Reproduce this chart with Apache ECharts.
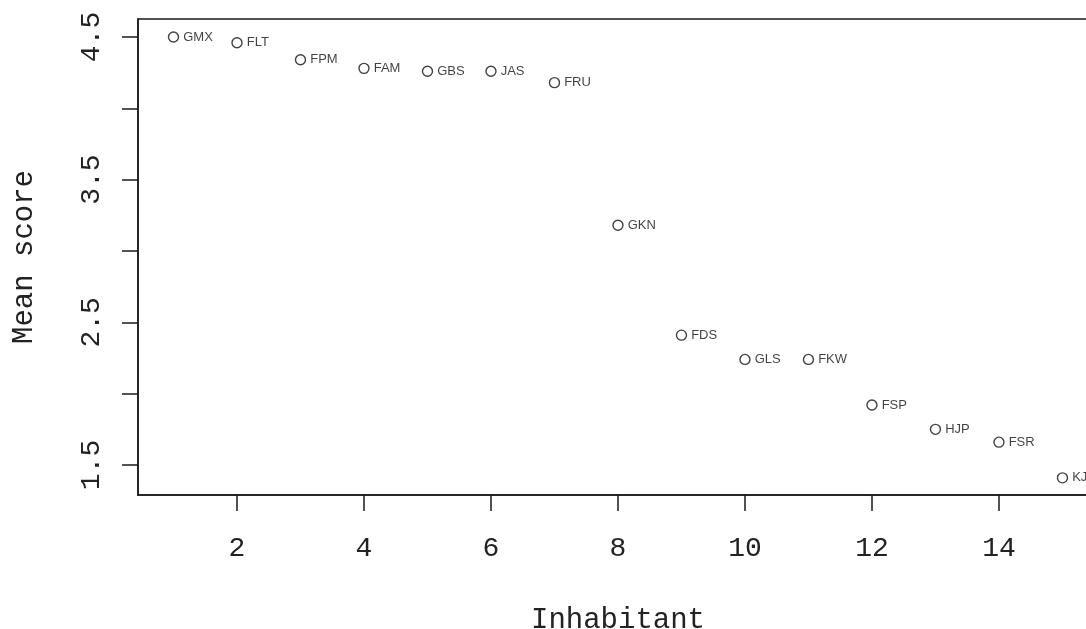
<!DOCTYPE html>
<html>
<head>
<meta charset="utf-8">
<script src="https://cdn.jsdelivr.net/npm/echarts@6/dist/echarts.min.js"></script>
<style>
html,body{margin:0;padding:0;background:#fff;}
#chart{width:1086px;height:629px;}
</style>
</head>
<body>
<div id="chart"></div>
<script>
// Data
var inhabitantIndex = [1, 2, 3, 4, 5, 6, 7, 8, 9, 10, 11, 12, 13, 14, 15];
var inhabitantCodes = ['GMX', 'FLT', 'FPM', 'FAM', 'GBS', 'JAS', 'FRU', 'GKN', 'FDS', 'GLS', 'FKW', 'FSP', 'HJP', 'FSR', 'KJ'];
var meanScores = [4.50, 4.46, 4.34, 4.28, 4.26, 4.26, 4.18, 3.18, 2.41, 2.24, 2.24, 1.92, 1.75, 1.66, 1.41];
var xTickValues = [2, 4, 6, 8, 10, 12, 14];
var yTickValues = [1.5, 2, 2.5, 3, 3.5, 4, 4.5];
var yLabelValues = [1.5, 2.5, 3.5, 4.5];

var points = inhabitantIndex.map(function (x, i) {
  return [x, meanScores[i], inhabitantCodes[i]];
});

var mono = '"Liberation Mono", "DejaVu Sans Mono", monospace';
var chart = echarts.init(document.getElementById('chart'), null, {renderer: 'canvas'});
chart.setOption({
  animation: false,
  backgroundColor: '#ffffff',
  grid: {
    left: 138, top: 19, width: 960, height: 476,
    show: true, borderColor: '#1a1a1a', borderWidth: 1.5,
    containLabel: false, outerBoundsMode: 'none'
  },
  xAxis: {
    type: 'value',
    min: 0.441, max: 15.56,
    name: 'Inhabitant',
    nameLocation: 'middle',
    nameGap: 111,
    nameTextStyle: {fontFamily: mono, fontSize: 29, color: '#222'},
    splitLine: {show: false},
    axisLine: {show: true, onZero: false, lineStyle: {color: '#1a1a1a', width: 1.5}},
    axisTick: {show: true, length: 16, lineStyle: {color: '#1a1a1a', width: 1.5}, customValues: xTickValues},
    axisLabel: {
      show: true, margin: 40, fontFamily: mono, fontSize: 28, color: '#222',
      customValues: xTickValues,
      formatter: function (v) { return String(v); }
    }
  },
  yAxis: {
    type: 'value',
    min: 1.2897, max: 4.626,
    name: 'Mean score',
    nameLocation: 'middle',
    nameGap: 99,
    nameTextStyle: {fontFamily: mono, fontSize: 29, color: '#222'},
    splitLine: {show: false},
    axisLine: {show: true, onZero: false, lineStyle: {color: '#1a1a1a', width: 1.5}},
    axisTick: {show: true, length: 16, lineStyle: {color: '#1a1a1a', width: 1.5}, customValues: yTickValues},
    axisLabel: {
      show: true, margin: 32, rotate: 90, fontFamily: mono, fontSize: 28, color: '#222',
      customValues: yLabelValues,
      formatter: function (v) { return v.toFixed(1); }
    }
  },
  series: [{
    type: 'scatter',
    data: points,
    symbol: 'circle',
    symbolSize: 10,
    itemStyle: {color: 'rgba(255,255,255,0)', borderColor: '#111', borderWidth: 1.4},
    label: {
      show: true,
      position: 'right',
      distance: 4,
      fontFamily: '"Liberation Sans", Arial, sans-serif',
      fontSize: 13,
      color: '#111',
      formatter: function (p) { return p.value[2]; }
    },
    clip: false
  }]
});
</script>
</body>
</html>
